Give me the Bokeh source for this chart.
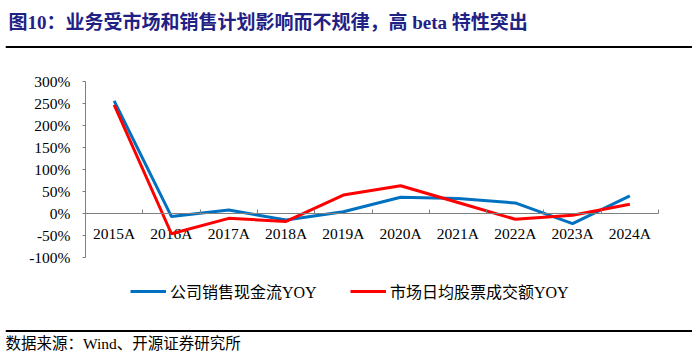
from bokeh.plotting import figure
from bokeh.models import (Range1d, FixedTicker, Label, BoxAnnotation, Legend, LegendItem,
                          ColumnDataSource)
from bokeh.core.properties import value
from bokeh.embed import file_html
from bokeh.resources import INLINE

# ---- data ----
years = ["2015A", "2016A", "2017A", "2018A", "2019A", "2020A", "2021A", "2022A", "2023A", "2024A"]
company_yoy = [256, -7, 8, -15, 4, 37, 34, 24, -23, 40]
market_yoy = [247, -46, -11, -18, 42, 63, 25, -13, -4, 21]
y_ticks = [-100, -50, 0, 50, 100, 150, 200, 250, 300]
y_tick_labels = ["-100%", "-50%", "0%", "50%", "100%", "150%", "200%", "250%", "300%"]
series_names = ["公司销售现金流YOY", "市场日均股票成交额YOY"]
title_text = "图10：业务受市场和销售计划影响而不规律，高 beta 特性突出"
source_text = "数据来源：Wind、开源证券研究所"

# ---- style / layout (pixel geometry only) ----
W, H = 692, 352
BL, BB = 5, 0                  # min borders (left / bottom) for the slim axis panels
PX_L, PX_R = 85, 658           # chart area, x pixels
PX_T, PX_B = 81, 257           # chart area, y pixels
SERIF = "Liberation Serif, Noto Sans CJK SC"
BLUE, RED = "#0070C0", "#FF0000"
AXIS = "#7F7F7F"

n = len(years)
kx = (PX_R - PX_L) / n
ky = (PX_B - PX_T) / (y_ticks[-1] - y_ticks[0])
x_start = (BL - PX_L) / kx
x_end = n + (W - PX_R) / kx
y_end = y_ticks[-1] + PX_T / ky
y_start = y_ticks[0] - ((H - BB) - PX_B) / ky


def dx(px):
    return x_start + (px - BL) / kx


def dy(py):
    return y_end - py / ky


centers = [i + 0.5 for i in range(n)]
src = ColumnDataSource(dict(x=centers, zero=[0] * n, year=years,
                            company=company_yoy, market=market_yoy))
ysrc = ColumnDataSource(dict(x=[0] * len(y_ticks), y=y_ticks, label=y_tick_labels))

p = figure(width=W, height=H, x_range=Range1d(x_start, x_end), y_range=Range1d(y_start, y_end),
           output_backend="svg", toolbar_location=None,
           min_border=0, min_border_left=BL, min_border_right=0,
           min_border_top=0, min_border_bottom=BB)
p.outline_line_color = None
p.grid.visible = False

ya = p.yaxis[0]
ya.fixed_location = 0
ya.bounds = (y_ticks[0], y_ticks[-1])
ya.ticker = FixedTicker(ticks=y_ticks)
ya.axis_line_color = AXIS
ya.major_tick_line_color = AXIS
ya.major_tick_out = 3
ya.major_tick_in = 0
ya.minor_tick_line_color = None
ya.major_label_standoff = 0
ya.major_label_text_font_size = "0px"
ya.major_label_text_alpha = 0

xa = p.xaxis[0]
xa.fixed_location = 0
xa.bounds = (0, n)
xa.ticker = FixedTicker(ticks=list(range(n + 1)))
xa.axis_line_color = AXIS
xa.major_tick_line_color = AXIS
xa.major_tick_in = 4
xa.major_tick_out = 0
xa.minor_tick_line_color = None
xa.major_label_standoff = 0
xa.major_label_text_font_size = "0px"
xa.major_label_text_alpha = 0

# tick labels
p.text(x="x", y="y", text="label", source=ysrc, x_offset=-15,
       text_font=value(SERIF), text_font_size="15.5px", text_color="black",
       text_align="right", text_baseline="middle")
p.text(x="x", y="zero", text="year", source=src, y_offset=19.5,
       text_font=value(SERIF), text_font_size="15.5px", text_color="black",
       text_align="center", text_baseline="middle")

r1 = p.line("x", "company", source=src, line_color=BLUE, line_width=3)
r2 = p.line("x", "market", source=src, line_color=RED, line_width=3)

frame_h = H - BB
for name, r, lx in [(series_names[0], r1, 130), (series_names[1], r2, 350)]:
    leg = Legend(items=[LegendItem(label=name, renderers=[r])],
                 location=(lx - BL, frame_h - 303),
                 orientation="horizontal", margin=0, padding=0, border_line_color=None,
                 background_fill_alpha=0, glyph_width=36, glyph_height=20, label_standoff=4,
                 label_height=20, label_text_font=SERIF, label_text_font_size="16px",
                 label_text_color="black", label_text_baseline="middle")
    p.add_layout(leg, "center")

# header / footer
p.add_layout(Label(x=dx(8), y=dy(22), text=title_text, text_font=SERIF, text_font_size="19px",
                   text_font_style="bold", text_color="#1F2185", text_baseline="middle"))
p.add_layout(BoxAnnotation(left=dx(5), right=dx(W), top=dy(45.5), bottom=dy(47.5),
                           fill_color="black", fill_alpha=1, line_color=None))
p.add_layout(BoxAnnotation(left=dx(5), right=dx(W), top=dy(329.5), bottom=dy(331.5),
                           fill_color="black", fill_alpha=1, line_color=None))
p.add_layout(Label(x=dx(5), y=dy(343), text=source_text, text_font=SERIF,
                   text_font_size="15.5px", text_color="black", text_baseline="middle"))

open("out.html", "w").write(file_html(p, INLINE))
